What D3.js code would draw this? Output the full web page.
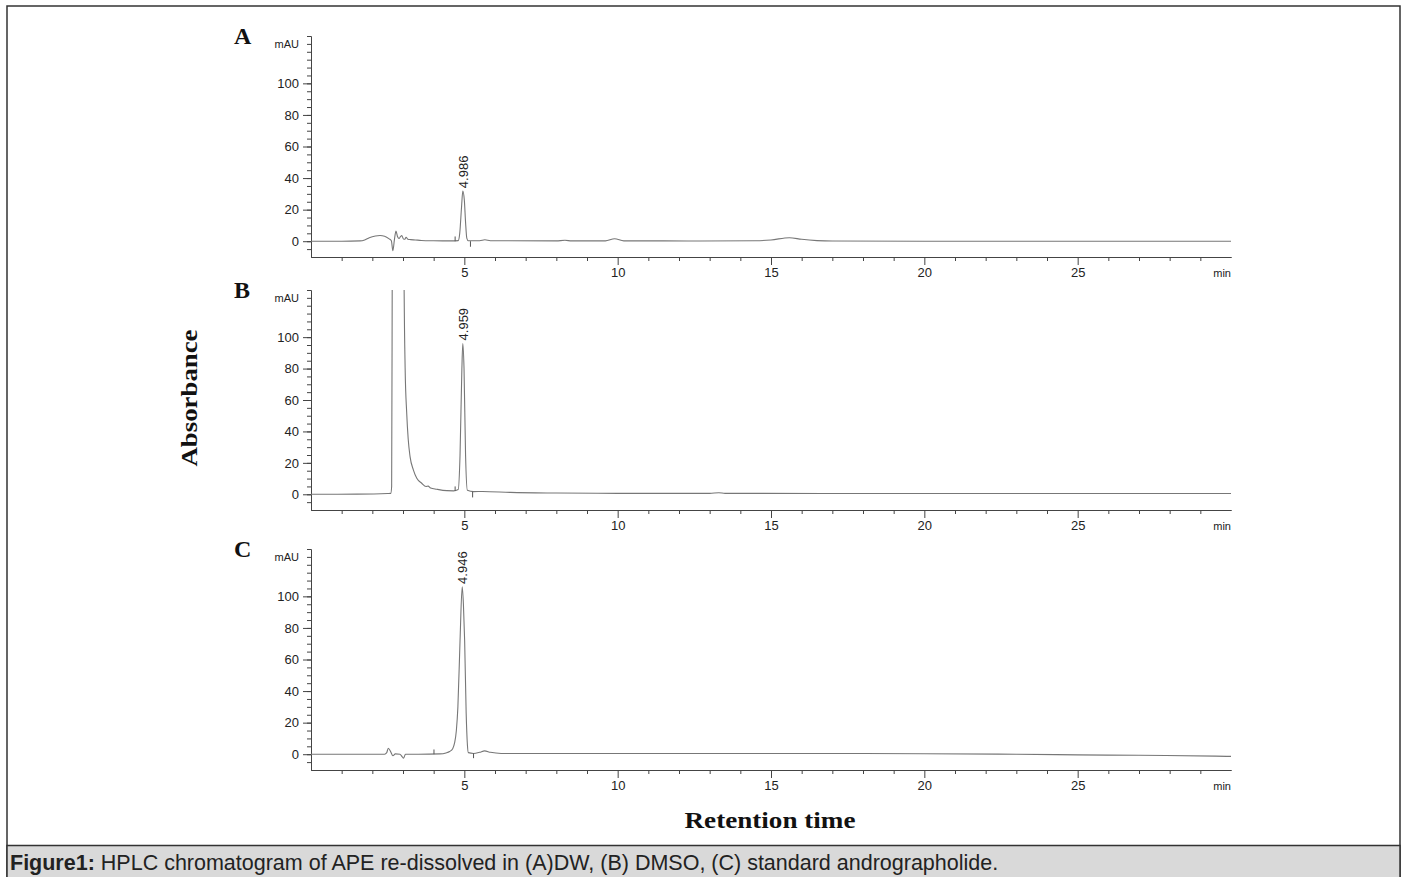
<!DOCTYPE html>
<meta charset="utf-8">
<script src="https://d3js.org/d3.v7.min.js"></script>
<style>
  body { margin: 0; background: #fff; }
  text { font-family: "Liberation Sans", Arial, sans-serif; }
</style>
<body>
<script>
    // chromatogram traces: [retention time (min), absorbance (mAU)]
    var traceA = [[0, 0], [1.0, 0], [1.6, 0.2], [1.75, 0.8], [1.9, 2.2], [2.1, 3.3], [2.25, 3.6], [2.4, 3.2], [2.55, 1.5],
        [2.62, 0.3], [2.67, -6], [2.72, 1], [2.77, 6.4], [2.82, 3], [2.87, 1.7], [2.92, 3], [2.96, 3.6], [3.01, 1.5],
        [3.06, 1.2], [3.1, 2.5], [3.16, 1.2], [3.25, 1], [3.4, 0.8], [3.6, 0.5], [4.0, 0.3], [4.6, 0.2], [4.8, 0.4],
        [4.85, 5], [4.91, 22], [4.95, 31.7], [5.0, 26], [5.04, 12], [5.08, 2], [5.13, 0.3], [5.5, 0.3], [5.67, 0.9],
        [5.85, 0.3], [8.0, 0.2], [8.28, 0.6], [8.5, 0.2], [9.6, 0.2], [9.9, 1.6], [10.2, 0.2], [11.5, 0.2], [12.7, 0.1],
        [14.5, 0.3], [15.0, 0.8], [15.6, 2.2], [16.0, 1.2], [16.5, 0.4], [17, 0.1], [20, 0], [25, 0], [30, 0]];
    var traceB = [[0, 0], [1.5, 0.1], [2.5, 0.5], [2.6, 0.6], [2.63, 5], [2.65, 150], [2.68, 400], [2.85, 600], [3.0, 400],
        [3.03, 150], [3.07, 80], [3.12, 52], [3.17, 35], [3.23, 24], [3.34, 15.4], [3.45, 10.2], [3.61, 7], [3.75, 5],
        [3.82, 5.2], [3.9, 4], [4.1, 3.2], [4.43, 2.3], [4.65, 2.2], [4.8, 3], [4.86, 25], [4.92, 80], [4.95, 96],
        [4.99, 80], [5.04, 25], [5.1, 2.5], [5.3, 1.7], [5.6, 1.8], [6.5, 1.2], [8, 0.8], [10, 0.6], [13, 0.6],
        [13.3, 1], [13.5, 0.6], [20, 0.5], [25, 0.5], [30, 0.5]];
    var traceC = [[0, 0], [2.4, 0], [2.47, 1], [2.52, 3.8], [2.6, 1.5], [2.67, -1], [2.75, 0.2], [2.9, 0], [2.97, -1.5],
        [3.02, -2.5], [3.08, 0], [3.5, 0], [4.2, 0.2], [4.4, 0.8], [4.52, 1.7], [4.62, 3.5], [4.68, 7], [4.74, 15],
        [4.79, 30], [4.86, 72], [4.93, 106], [4.97, 95], [5.01, 72], [5.06, 26], [5.1, 6], [5.13, 1], [5.3, 0.5],
        [5.5, 1.2], [5.66, 2.1], [5.85, 1.2], [6.2, 0.5], [10, 0.5], [17, 0.5], [20, 0.3], [23, 0], [25, -0.4],
        [27, -0.7], [29.5, -1.2], [30, -1.4]];

    // integration marks [time, base, end]
    var marksA = [[4.70, 0, 3], [5.20, 0, -3.5]];
    var marksB = [[4.70, 2.2, 5], [5.27, 1.7, -2]];
    var marksC = [[4.01, 0, 3], [5.30, 0.5, -2.5]];

    var peakTimes = [4.986, 4.959, 4.946];
    var peakHeights = [31.7, 96, 106];
    var panelNames = ["A", "B", "C"];

    var xTicks = [5, 10, 15, 20, 25];
    var yTicks = [0, 20, 40, 60, 80, 100];

    var W = 1404, H = 877;
    var svg = d3.select("body").append("svg")
        .attr("width", W)
        .attr("height", H);

    // frame + caption band
    svg.append("rect").attr("x", 7).attr("y", 6).attr("width", 1393).attr("height", H)
        .attr("fill", "none").attr("stroke", "#333").attr("stroke-width", 1.5);
    svg.append("rect").attr("x", 7).attr("y", 845.5).attr("width", 1393).attr("height", 40)
        .attr("fill", "#d9d9d9").attr("stroke", "#333").attr("stroke-width", 1.5);
    var cap = svg.append("text").attr("x", 10).attr("y", 870).style("font-size", "21.5px").attr("fill", "#222");
    cap.append("tspan").style("font-weight", "bold").text("Figure1:");
    cap.append("tspan").text(" HPLC chromatogram of APE re-dissolved in (A)DW, (B) DMSO, (C) standard andrographolide.");

    var x = d3.scaleLinear().domain([0, 30]).range([311, 1231]);

    var panels = [
        { top: 36, bottom: 257, data: traceA, marks: marksA },
        { top: 290, bottom: 510, data: traceB, marks: marksB },
        { top: 549, bottom: 770, data: traceC, marks: marksC }
    ];

    panels.forEach(function (p, i) {
        var y = d3.scaleLinear().domain([-10, 130]).range([p.bottom, p.top]);

        svg.append("clipPath").attr("id", "clip" + i)
            .append("rect").attr("x", x(0)).attr("y", p.top)
            .attr("width", x(30) - x(0)).attr("height", p.bottom - p.top);

        // y axis: minor then major
        svg.append("g").attr("transform", "translate(" + x(0) + ",0)")
            .call(d3.axisLeft(y).tickValues(d3.range(-5, 131, 5)).tickSize(4).tickSizeOuter(0).tickFormat(""))
            .call(function (g) { g.selectAll("line,path").attr("stroke", "#444"); });
        var ya = svg.append("g").attr("transform", "translate(" + x(0) + ",0)")
            .call(d3.axisLeft(y).tickValues(yTicks).tickSize(8).tickSizeOuter(0).tickPadding(4));
        ya.selectAll("line,path").attr("stroke", "#444");
        ya.selectAll("text").style("font-size", "13px").attr("fill", "#222").style("font-family", "Liberation Sans, Arial, sans-serif");

        svg.append("text").attr("x", 299).attr("y", p.top + 12)
            .attr("text-anchor", "end").style("font-size", "11px").attr("fill", "#222").text("mAU");

        // x axis: minor then major
        var minor = d3.range(1, 30).filter(function (d) { return d % 5 !== 0; });
        svg.append("g").attr("transform", "translate(0," + p.bottom + ")")
            .call(d3.axisBottom(x).tickValues(minor).tickSize(4).tickSizeOuter(0).tickFormat(""))
            .call(function (g) { g.selectAll("line,path").attr("stroke", "#444"); });
        var xa = svg.append("g").attr("transform", "translate(0," + p.bottom + ")")
            .call(d3.axisBottom(x).tickValues(xTicks).tickSize(8).tickSizeOuter(0).tickPadding(3));
        xa.selectAll("line,path").attr("stroke", "#444");
        xa.selectAll("text").style("font-size", "13px").attr("fill", "#222").style("font-family", "Liberation Sans, Arial, sans-serif");

        svg.append("text").attr("x", x(30)).attr("y", p.bottom + 20)
            .attr("text-anchor", "end").style("font-size", "11px").attr("fill", "#222").text("min");

        // trace
        var line = d3.line()
            .x(function (d) { return x(d[0]); })
            .y(function (d) { return y(d[1]); })
            .curve(d3.curveMonotoneX);
        svg.append("path").datum(p.data)
            .attr("clip-path", "url(#clip" + i + ")")
            .attr("fill", "none").attr("stroke", "#777").attr("stroke-width", 1.1)
            .attr("d", line);

        svg.selectAll(".mark" + i).data(p.marks).enter().append("line")
            .attr("x1", function (d) { return x(d[0]); })
            .attr("x2", function (d) { return x(d[0]); })
            .attr("y1", function (d) { return y(d[1]); })
            .attr("y2", function (d) { return y(d[2]); })
            .attr("stroke", "#555").attr("stroke-width", 1);

        // peak label
        var px = x(peakTimes[i]), py = y(peakHeights[i]) - 3;
        svg.append("text")
            .attr("transform", "translate(" + (px + 4.5) + "," + py + ") rotate(-90)")
            .style("font-size", "13px").attr("fill", "#222")
            .text(peakTimes[i].toFixed(3));

        // panel letter
        svg.append("text").attr("x", 234).attr("y", p.top + 8)
            .style("font-family", "Liberation Serif, serif").style("font-weight", "bold")
            .style("font-size", "24px").attr("fill", "#111")
            .text(panelNames[i]);
    });

    svg.append("text")
        .attr("transform", "translate(197,398) rotate(-90)")
        .attr("text-anchor", "middle")
        .style("font-family", "Liberation Serif, serif").style("font-weight", "bold")
        .style("font-size", "23px").attr("fill", "#111")
        .attr("textLength", 137).attr("lengthAdjust", "spacingAndGlyphs")
        .text("Absorbance");

    svg.append("text")
        .attr("x", 770).attr("y", 828)
        .attr("text-anchor", "middle")
        .style("font-family", "Liberation Serif, serif").style("font-weight", "bold")
        .style("font-size", "23px").attr("fill", "#111")
        .attr("textLength", 171).attr("lengthAdjust", "spacingAndGlyphs")
        .text("Retention time");
</script>
</body>
